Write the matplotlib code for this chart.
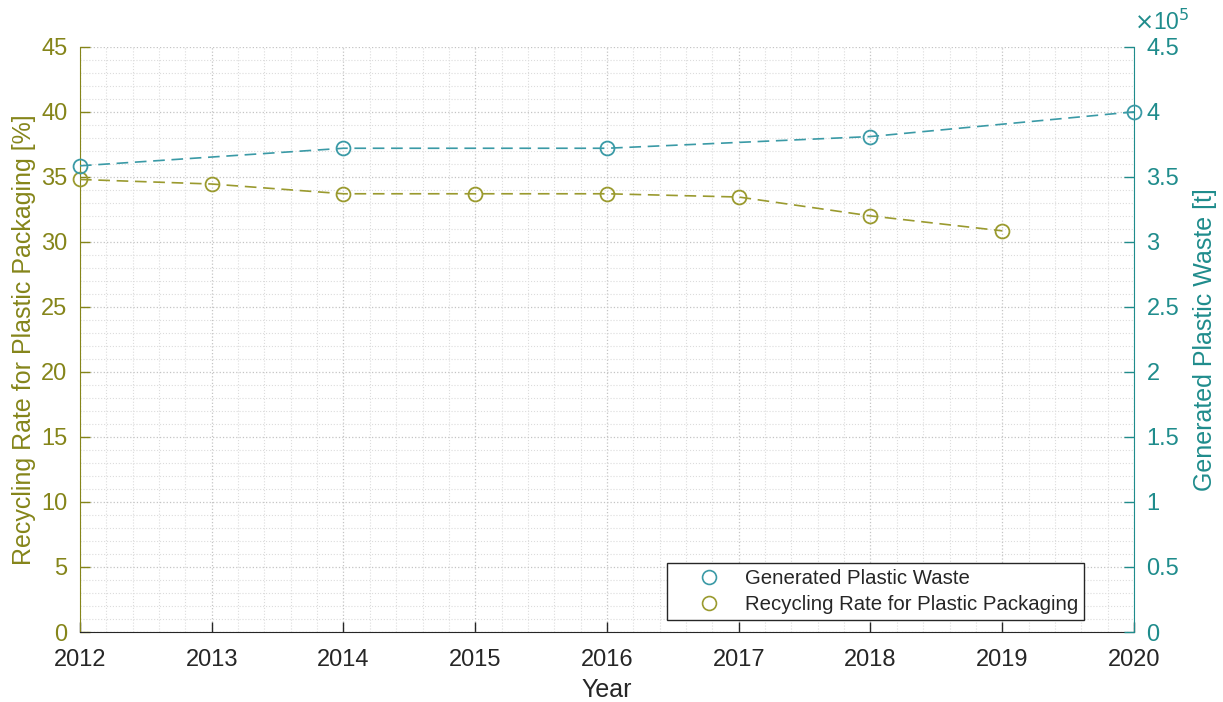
import matplotlib
matplotlib.use("Agg")
import matplotlib.pyplot as plt
from matplotlib.lines import Line2D
from matplotlib.ticker import MultipleLocator

plt.rcParams['font.family'] = ['Liberation Sans', 'DejaVu Sans']

# Data
years_waste = [2012, 2014, 2016, 2018, 2020]
waste_t = [3.585e5, 3.72e5, 3.72e5, 3.81e5, 4.0e5]
years_rate = [2012, 2013, 2014, 2015, 2016, 2017, 2018, 2019]
rate_pct = [34.8, 34.45, 33.7, 33.7, 33.7, 33.45, 32.0, 30.85]

olive_txt = '#85851a'
teal_txt = '#1f8c8c'
olive_mk = '#9a9a2e'
teal_mk = '#3a9aa6'
dark = '#262626'

fig = plt.figure(figsize=(12.23, 7.02), dpi=100)
ax = fig.add_axes([0.0654, 0.0997, 0.8618, 0.8336])
ax2 = ax.twinx()

# Grid on the left axes
ax.set_xlim(2012, 2020)
ax.set_ylim(0, 45)
ax.xaxis.set_major_locator(MultipleLocator(1))
ax.xaxis.set_minor_locator(MultipleLocator(0.2))
ax.yaxis.set_major_locator(MultipleLocator(5))
ax.yaxis.set_minor_locator(MultipleLocator(1))
ax.grid(which='major', linestyle=':', color='#c4c4c4', linewidth=0.9)
ax.grid(which='minor', linestyle=':', color='#dcdcdc', linewidth=0.8)
ax.set_axisbelow(True)

ax.plot(years_rate, rate_pct, linestyle=(0, (7, 4)), color=olive_mk,
        linewidth=1.2, marker='o', markersize=10, markerfacecolor='none',
        markeredgewidth=1.3, clip_on=False, zorder=3)

ax2.set_ylim(0, 4.5e5)
ax2.plot(years_waste, waste_t, linestyle=(0, (7, 4)), color=teal_mk,
         linewidth=1.2, marker='o', markersize=10, markerfacecolor='none',
         markeredgewidth=1.3, clip_on=False, zorder=3)
ax2.set_yticks([i * 0.5e5 for i in range(10)])
ax2.set_yticklabels(['0', '0.5', '1', '1.5', '2', '2.5', '3', '3.5', '4', '4.5'])
ax2.text(1.0, 1.02, r'$\times$10$^{5}$', transform=ax2.transAxes,
         color=teal_txt, fontsize=16.5, ha='left', va='bottom')

# Spines
for a in (ax, ax2):
    a.spines['top'].set_visible(False)
ax.spines['left'].set_color(olive_txt)
ax.spines['bottom'].set_color(dark)
ax.spines['right'].set_visible(False)
ax2.spines['left'].set_visible(False)
ax2.spines['bottom'].set_visible(False)
ax2.spines['right'].set_color(teal_txt)

ax.tick_params(axis='x', which='major', direction='in', length=7, width=1,
               color=dark, labelcolor=dark, labelsize=17, pad=12)
ax.tick_params(axis='y', which='major', direction='in', length=7, width=1,
               color=olive_txt, labelcolor=olive_txt, labelsize=17, pad=9)
ax.tick_params(which='minor', length=0)
ax2.tick_params(axis='y', which='major', direction='in', length=7, width=1,
                color=teal_txt, labelcolor=teal_txt, labelsize=17, pad=9)
ax2.tick_params(which='minor', length=0)

ax.set_xlabel('Year', fontsize=18, color=dark, labelpad=5)
ax.set_ylabel('Recycling Rate for Plastic Packaging [%]', fontsize=18,
              color=olive_txt, labelpad=4)
ax2.set_ylabel('Generated Plastic Waste [t]', fontsize=18, color=teal_txt,
               labelpad=10)

handles = [
    Line2D([], [], linestyle='none', marker='o', markersize=10,
           markerfacecolor='none', markeredgecolor=teal_mk, markeredgewidth=1.2,
           label='Generated Plastic Waste'),
    Line2D([], [], linestyle='none', marker='o', markersize=10,
           markerfacecolor='none', markeredgecolor=olive_mk, markeredgewidth=1.2,
           label='Recycling Rate for Plastic Packaging'),
]
leg = ax2.legend(handles=handles, loc='lower right',
                 bbox_to_anchor=(0.953, 0.0205), fontsize=14.7, frameon=True,
                 fancybox=False, edgecolor=dark, framealpha=1,
                 handletextpad=0.0, borderpad=0.3, labelspacing=0.35,
                 handlelength=3.5, borderaxespad=0)
leg.get_frame().set_linewidth(1.0)
for t in leg.get_texts():
    t.set_color(dark)

fig.savefig('out.png', dpi=100)
